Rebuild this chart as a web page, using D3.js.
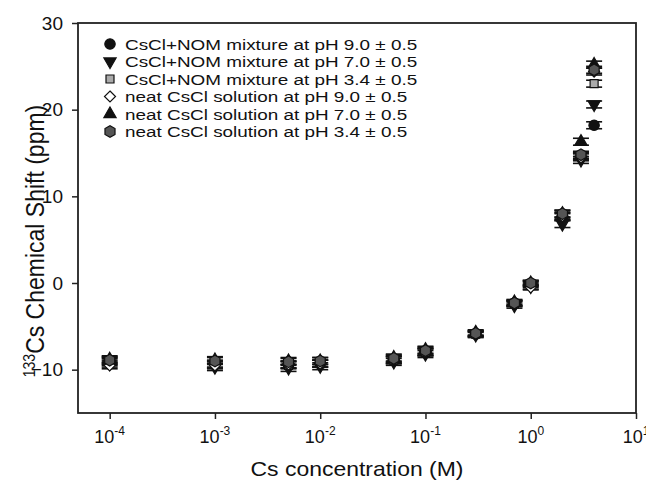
<!DOCTYPE html>
<html><head><meta charset="utf-8">
<script src="https://cdn.jsdelivr.net/npm/d3@7"></script>
<style>
body{margin:0;background:#fff;overflow:hidden;}
text{font-family:Arial,"Liberation Sans",sans-serif;fill:#111;}
</style></head>
<body><svg id="c" width="646" height="483"></svg>
<script>
const concentrations = [1e-4, 1e-3, 5e-3, 1e-2, 5e-2, 1e-1, 3e-1, 7e-1, 1, 2, 3, 4];
const mixPH9  = [-9.0, -9.3, -9.4, -9.3, -8.9, -8.0, -5.9, -2.3, -0.2, 7.6, 14.6, 18.2];
const mixPH7  = [-9.3, -9.7, -9.8, -9.6, -9.1, -8.2, -6.0, -2.6, -0.4, 6.8, 14.2, 20.6];
const mixPH34 = [-9.1, -9.4, -9.5, -9.3, -8.9, -8.0, -5.9, -2.4, -0.1, 7.8, 14.7, 23.0];
const neatPH9 = [-9.5, -9.5, -9.4, -9.3, -8.8, -7.9, -5.8, -2.4, -0.5, 7.7, 14.5, 24.4];
const neatPH7 = [-8.8, -8.9, -9.0, -9.0, -8.6, -7.7, -5.7, -2.2, 0.0, 8.0, 16.3, 25.2];
const neatPH34= [-8.9, -9.0, -9.1, -9.0, -8.7, -7.8, -5.8, -2.3, 0.0, 8.0, 14.8, 24.6];
const errors  = [0.4, 0.4, 0.4, 0.4, 0.4, 0.4, 0.3, 0.3, 0.3, 0.4, 0.4, 0.4];
const seriesNames = ["CsCl+NOM mixture at pH 9.0 \u00b1 0.5","CsCl+NOM mixture at pH 7.0 \u00b1 0.5","CsCl+NOM mixture at pH 3.4 \u00b1 0.5","neat CsCl solution at pH 9.0 \u00b1 0.5","neat CsCl solution at pH 7.0 \u00b1 0.5","neat CsCl solution at pH 3.4 \u00b1 0.5"];
const seriesValues = [mixPH9, mixPH7, mixPH34, neatPH9, neatPH7, neatPH34];
const xTickValues = [1e-4, 1e-3, 1e-2, 1e-1, 1, 10];
const xTickExps = ["-4","-3","-2","-1","0","1"];
const yTickValues = [-10, 0, 10, 20, 30];

const symbols = [
  {type:d3.symbolCircle, size:85, fill:"#111", rot:0},
  {type:d3.symbolTriangle, size:65, fill:"#111", rot:180},
  {type:d3.symbolSquare, size:64, fill:"#aaa", rot:0},
  {type:d3.symbolDiamond, size:60, fill:"#fff", rot:0, sq:true},
  {type:d3.symbolTriangle, size:65, fill:"#111", rot:0},
  {type:"hex", size:80, fill:"#555", rot:0}
];
function hexPath(r){
  const pts=[];
  for(let i=0;i<6;i++){const a=Math.PI/6+i*Math.PI/3;pts.push([r*Math.cos(a),r*Math.sin(a)]);}
  return "M"+pts.map(p=>p.join(",")).join("L")+"Z";
}
function symPath(s){
  if(s.type==="hex") return hexPath(5.8);
  if(s.sq) return "M0,-5.5L5.5,0L0,5.5L-5.5,0Z";
  return d3.symbol().type(s.type).size(s.size)();
}

const svg = d3.select("#c");
const L=78, R=636, T=23, B=413;
const x = d3.scaleLog().domain([5e-5, 10]).range([L, R]);
const y = d3.scaleLinear().domain([-15, 30]).range([B, T]);

// frame
svg.append("rect").attr("x",L).attr("y",T).attr("width",R-L).attr("height",B-T)
  .attr("fill","none").attr("stroke","#222").attr("stroke-width",1.8);

// x axis
const xa = svg.append("g").attr("transform",`translate(0,${B})`)
  .call(d3.axisBottom(x).tickValues(xTickValues).tickSize(6).tickFormat(""));
xa.select(".domain").remove();
xa.selectAll("line").attr("stroke","#222").attr("stroke-width",1.5);
xTickValues.forEach((v,i)=>{
  const t = svg.append("text").attr("x",x(v)).attr("y",443).attr("text-anchor","middle").style("font-size","18px");
  t.append("tspan").text("10");
  t.append("tspan").attr("dy",-8).style("font-size","12px").text(xTickExps[i]);
});
// y axis
const ya = svg.append("g").attr("transform",`translate(${L},0)`)
  .call(d3.axisLeft(y).tickValues(yTickValues).tickSize(6).tickPadding(9));
ya.select(".domain").remove();
ya.selectAll("line").attr("stroke","#222").attr("stroke-width",1.5);
ya.selectAll("text").style("font-size","19px").style("font-family","Arial,'Liberation Sans',sans-serif").attr("fill","#111");

// axis titles
svg.append("text").attr("transform","translate(357,476) scale(1.12,1)").attr("text-anchor","middle").style("font-size","20.5px").text("Cs concentration (M)");
const yl = svg.append("text").attr("transform","translate(44,241) scale(1.12,1) rotate(-90)").attr("text-anchor","middle").style("font-size","23px");
yl.append("tspan").attr("dy",-8).style("font-size","14px").text("133");
yl.append("tspan").attr("dy",8).text("Cs Chemical Shift (ppm)");

// data
const g = svg.append("g");
seriesValues.forEach((vals, si)=>{
  const s = symbols[si];
  const sg = g.append("g");
  vals.forEach((v,i)=>{
    const cx = x(concentrations[i]), e = errors[i];
    const y1 = y(v+e), y2 = y(v-e);
    sg.append("line").attr("x1",cx).attr("x2",cx).attr("y1",y1).attr("y2",y2).attr("stroke","#111").attr("stroke-width",1.2);
    [y1,y2].forEach(yy=>sg.append("line").attr("x1",cx-8).attr("x2",cx+8).attr("y1",yy).attr("y2",yy).attr("stroke","#111").attr("stroke-width",1.6));
    sg.append("path").attr("d",symPath(s)).attr("transform",`translate(${cx},${y(v)}) rotate(${s.rot})`)
      .attr("fill",s.fill).attr("stroke","#111").attr("stroke-width",1.2);
  });
});

// legend
seriesNames.forEach((n,i)=>{
  const yy = 44 + i*17.5;
  const s = symbols[i];
  svg.append("path").attr("d",symPath(s)).attr("transform",`translate(110,${yy}) rotate(${s.rot})`)
    .attr("fill",s.fill).attr("stroke","#111").attr("stroke-width",1.2);
  svg.append("text").attr("transform",`translate(125,${yy+5.5}) scale(1.26,1)`).style("font-size","15px").text(n);
});
</script></body></html>
